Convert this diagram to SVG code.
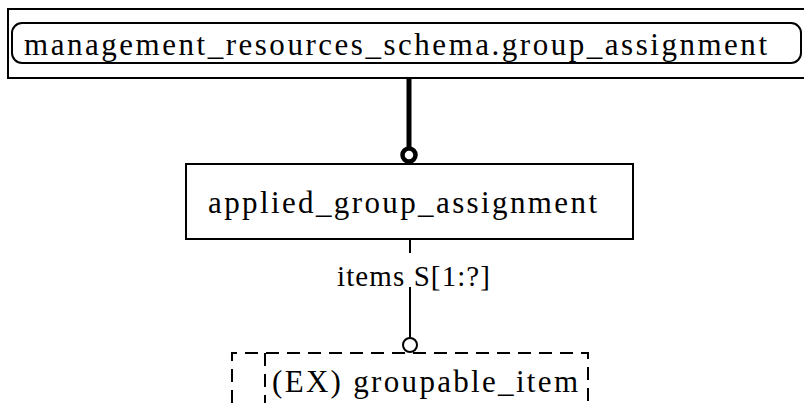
<svg xmlns="http://www.w3.org/2000/svg" width="804" height="403" viewBox="0 0 804 403">
<style>
.t{font-family:"Liberation Serif","Times New Roman",serif;font-size:31px;fill:#000}
.box{fill:#fff;stroke:#000;stroke-width:2}
.dash{fill:none;stroke:#000;stroke-width:2;stroke-dasharray:13 8}
.thin{stroke:#000;stroke-width:2;fill:none}
</style>
<rect width="804" height="403" fill="#fff"/>
<g id="schema_ref">
<rect class="box" x="8" y="9" width="810" height="69"/>
<rect class="box" x="12" y="23" width="789" height="40" rx="10" ry="10"/>
<text class="t" x="24" y="55" textLength="743" lengthAdjust="spacing">management_resources_schema.group_assignment</text>
</g>
<g id="applied_group_assignment">
<rect class="box" x="186" y="164" width="447" height="75"/>
<text class="t" x="208" y="213" textLength="389" lengthAdjust="spacing">applied_group_assignment</text>
</g>
<g id="groupable_item">
<path class="dash" d="M232,403 V353 H588 V403"/>
<line class="dash" x1="265" y1="353" x2="265" y2="403"/>
<text class="t" x="272" y="392" textLength="306" lengthAdjust="spacing">(EX) groupable_item</text>
</g>
<g id="connectors">
<line x1="409" y1="78" x2="409" y2="149" stroke="#000" stroke-width="5"/>
<circle cx="409" cy="155" r="6.5" fill="#fff" stroke="#000" stroke-width="4.5"/>
<line class="thin" x1="410" y1="239" x2="410" y2="253"/>
<line class="thin" x1="410" y1="287" x2="410" y2="338"/>
<circle cx="410" cy="345" r="7" fill="#fff" stroke="#000" stroke-width="2"/>
<text class="t" x="337" y="286" style="font-size:29px" textLength="153" lengthAdjust="spacing">items S[1:?]</text>
</g>
</svg>
